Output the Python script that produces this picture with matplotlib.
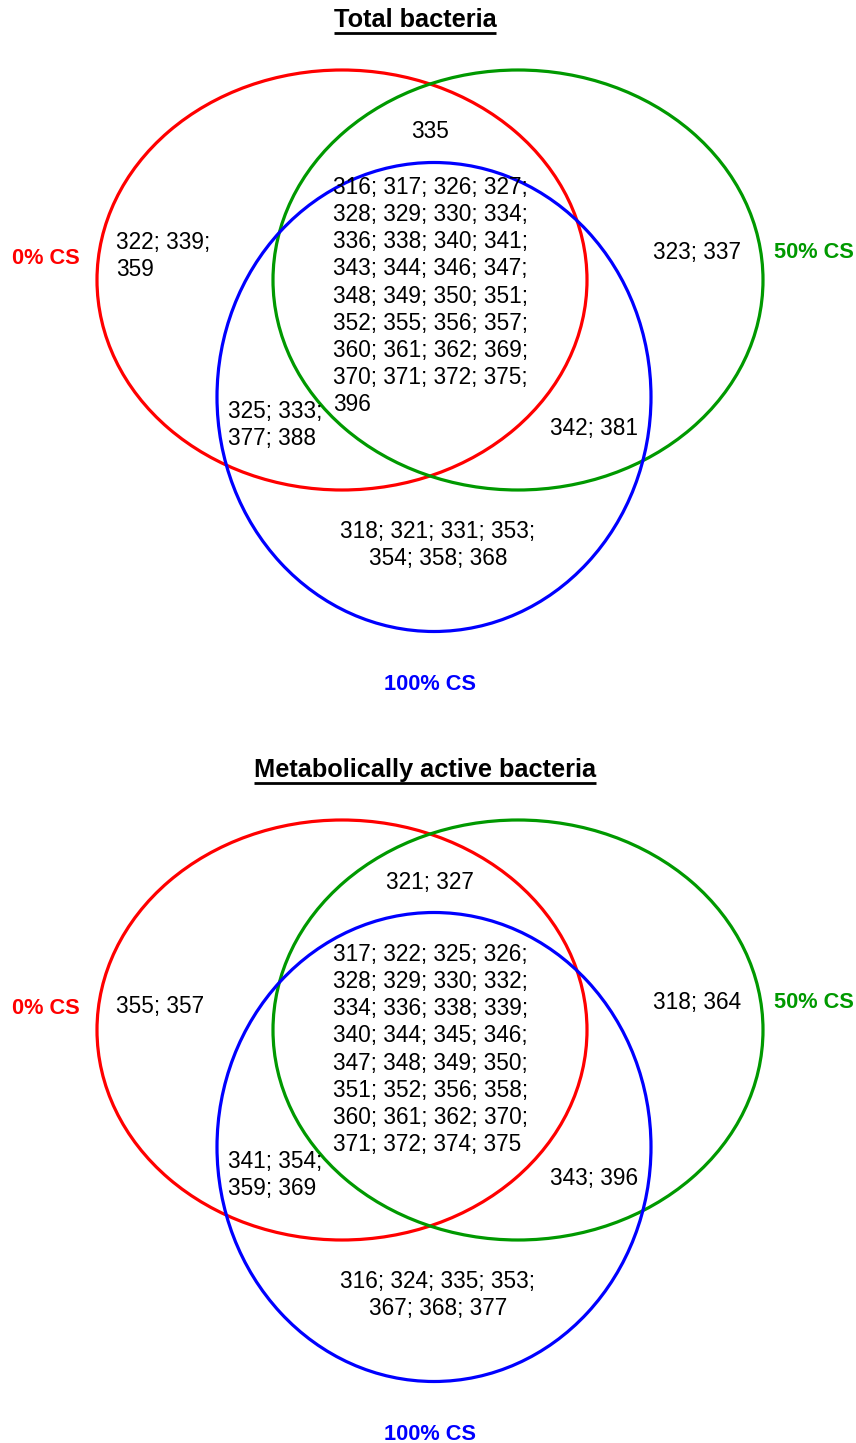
import matplotlib.pyplot as plt
from matplotlib.patches import Ellipse

plt.rcParams['font.family'] = ['Liberation Sans', 'DejaVu Sans']

# Isolate numbers in each Venn region
titles = ['Total bacteria', 'Metabolically active bacteria']
set_names = ['0% CS', '50% CS', '100% CS']
set_colors = ['#ff0000', '#009900', '#0000ff']

total_only0 = [322, 339, 359]
total_only50 = [323, 337]
total_only100 = [318, 321, 331, 353, 354, 358, 368]
total_0_50 = [335]
total_0_100 = [325, 333, 377, 388]
total_50_100 = [342, 381]
total_all = [316, 317, 326, 327, 328, 329, 330, 334, 336, 338, 340, 341, 343, 344,
             346, 347, 348, 349, 350, 351, 352, 355, 356, 357, 360, 361, 362, 369,
             370, 371, 372, 375, 396]

active_only0 = [355, 357]
active_only50 = [318, 364]
active_only100 = [316, 324, 335, 353, 367, 368, 377]
active_0_50 = [321, 327]
active_0_100 = [341, 354, 359, 369]
active_50_100 = [343, 396]
active_all = [317, 322, 325, 326, 328, 329, 330, 332, 334, 336, 338, 339, 340, 344,
              345, 346, 347, 348, 349, 350, 351, 352, 356, 358, 360, 361, 362, 370,
              371, 372, 374, 375]


def fmt(nums, per_line):
    parts = [str(n) for n in nums]
    lines = []
    for i in range(0, len(parts), per_line):
        lines.append('; '.join(parts[i:i + per_line]))
    return ';\n'.join(lines)


fig = plt.figure(figsize=(8.56, 14.43), dpi=100)
ax = fig.add_axes([0, 0, 1, 1])
ax.set_xlim(0, 856)
ax.set_ylim(1443, 0)
ax.axis('off')

fs = 16.3
lsp = 1.23


def venn(off, title, title_x, core_top, only0, only50, only100, r01, r02, r12, rall):
    # circles
    ax.add_patch(Ellipse((342, 280 + off), 490, 420, fill=False, ec=set_colors[0], lw=2.3))
    ax.add_patch(Ellipse((518, 280 + off), 490, 420, fill=False, ec=set_colors[1], lw=2.3))
    ax.add_patch(Ellipse((434, 397 + off), 434, 469, fill=False, ec=set_colors[2], lw=2.3))

    t = ax.text(title_x, 20 + off, title, ha='center', va='center', fontsize=18.3, fontweight='bold')

    ax.text(46, 258 + off, set_names[0], ha='center', va='center', fontsize=15.7,
            fontweight='bold', color=set_colors[0])
    ax.text(814, 253 + off, set_names[1], ha='center', va='center', fontsize=15.7,
            fontweight='bold', color=set_colors[1])
    ax.text(430, 684 + off, set_names[2], ha='center', va='center', fontsize=15.7,
            fontweight='bold', color=set_colors[2])

    ax.text(116, 256 + off, fmt(only0, 2), ha='left', va='center', fontsize=fs, linespacing=lsp)
    ax.text(653, 252 + off, fmt(only50, 2), ha='left', va='center', fontsize=fs, linespacing=lsp)
    ax.text(438, 545 + off, fmt(only100, 4), ha='center', va='center', fontsize=fs,
            linespacing=lsp, multialignment='center')
    ax.text(430, 132 + off, fmt(r01, 2), ha='center', va='center', fontsize=fs, linespacing=lsp)
    ax.text(228, 425 + off, fmt(r02, 2), ha='left', va='center', fontsize=fs, linespacing=lsp)
    ax.text(550, 428 + off, fmt(r12, 2), ha='left', va='center', fontsize=fs, linespacing=lsp)
    ax.text(333, core_top + off, fmt(rall, 4), ha='left', va='top', fontsize=fs, linespacing=lsp)
    return t


t1 = venn(0, titles[0], 415, 176, total_only0, total_only50, total_only100,
          total_0_50, total_0_100, total_50_100, total_all)
t2 = venn(750, titles[1], 425, 193, active_only0, active_only50, active_only100,
          active_0_50, active_0_100, active_50_100, active_all)

# underline the titles
fig.canvas.draw()
inv = ax.transData.inverted()
for t in [t1, t2]:
    bb = t.get_window_extent()
    (x0, y0), (x1, y1) = inv.transform([(bb.x0, bb.y0), (bb.x1, bb.y1)])
    ax.plot([x0, x1], [y0 + 1, y0 + 1], color='black', lw=2, solid_capstyle='butt')

fig.savefig('out.png', dpi=100)
